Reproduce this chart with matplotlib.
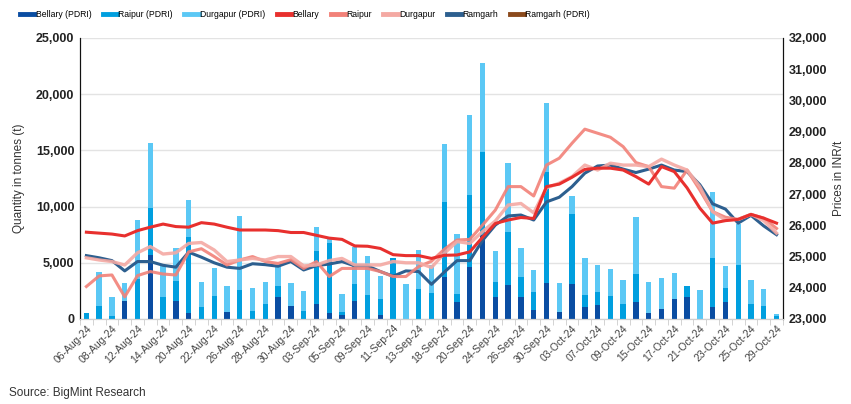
import numpy as np
import matplotlib
matplotlib.use('Agg')
import matplotlib.pyplot as plt
from matplotlib.lines import Line2D

plt.rcParams['font.family'] = ['Liberation Sans Narrow', 'Liberation Sans', 'DejaVu Sans']

# dates (trading days)
dates = ['06-Aug-24', '07-Aug-24', '08-Aug-24', '09-Aug-24', '12-Aug-24', '13-Aug-24', '14-Aug-24',
         '16-Aug-24', '20-Aug-24', '21-Aug-24', '22-Aug-24', '23-Aug-24', '26-Aug-24', '27-Aug-24',
         '28-Aug-24', '29-Aug-24', '30-Aug-24', '02-Sep-24', '03-Sep-24', '04-Sep-24', '05-Sep-24',
         '06-Sep-24', '09-Sep-24', '10-Sep-24', '11-Sep-24', '12-Sep-24', '13-Sep-24', '17-Sep-24',
         '18-Sep-24', '19-Sep-24', '20-Sep-24', '23-Sep-24', '24-Sep-24', '25-Sep-24', '26-Sep-24',
         '27-Sep-24', '30-Sep-24', '01-Oct-24', '03-Oct-24', '04-Oct-24', '07-Oct-24', '08-Oct-24',
         '09-Oct-24', '11-Oct-24', '15-Oct-24', '16-Oct-24', '17-Oct-24', '18-Oct-24', '21-Oct-24',
         '22-Oct-24', '23-Oct-24', '24-Oct-24', '25-Oct-24', '28-Oct-24', '29-Oct-24']

# quantities (t), stacked bars
bellary_pdri = [0, 0, 0, 1570, 0, 5690, 0, 1570, 560, 0, 0, 650, 0, 0,
                0, 1990, 1160, 0, 1310, 560, 400, 1570, 0, 360, 0, 0, 0, 0,
                3710, 1540, 4650, 7500, 1930, 3020, 1930, 800, 3230, 650, 3080, 1040, 1220, 0,
                0, 1480, 560, 860, 1780, 1990, 0, 1100, 1540, 0, 0, 0, 0]
raipur_pdri = [550, 1150, 300, 0, 3530, 4160, 2000, 1840, 6750, 1100, 2050, 0, 2580, 710,
               1330, 980, 0, 740, 4740, 6200, 200, 1510, 2130, 1420, 5400, 0, 2640, 2340,
               6730, 680, 6410, 7400, 1390, 4750, 1780, 1580, 9880, 0, 6230, 1090, 1210, 2050,
               1310, 2520, 0, 0, 0, 980, 0, 4300, 1250, 4800, 1310, 1160, 300]
durgapur_pdri = [0, 3030, 1650, 1660, 5250, 5780, 2700, 2940, 3250, 2200, 2520, 2320, 6550, 2080,
                 1990, 1690, 2010, 1780, 2110, 560, 1620, 3300, 3440, 2050, 0, 3080, 3500, 2500,
                 5100, 5310, 7120, 7850, 2730, 6080, 2580, 1980, 6080, 2580, 1660, 3270, 2400, 2430,
                 2160, 5050, 2700, 2790, 2340, 0, 2580, 5930, 1950, 3650, 2160, 1480, 120]

# prices (INR/t)
bellary = [25780, 25750, 25720, 25660, 25830, 25940, 26040, 25960, 25940, 26085, 26040, 25940, 25850, 25850,
           25850, 25830, 25770, 25770, 25680, 25590, 25550, 25340, 25330, 25260, 25060, 25030, 25030, 24940,
           25040, 25050, 25150, 25620, 26060, 26170, 26250, 26220, 27240, 27320, 27540, 27790, 27830, 27830,
           27770, 27560, 27320, 27880, 27720, 27200, 26550, 26070, 26150, 26190, 26350, 26230, 26070]
raipur = [24040, 24380, 24410, 23710, 24390, 24520, 24440, 24410, 25150, 25250, 25000, 24730, 24890, 25000,
          24840, 24780, 24900, 24620, 24840, 24360, 24620, 24620, 24620, 24520, 24360, 24360, 24680, 24850,
          25230, 25530, 25550, 26010, 26490, 27240, 27240, 26940, 27930, 28150, 28630, 29080, 28950, 28820,
          28520, 28010, 27880, 27240, 27190, 27770, 27130, 26440, 26260, 26190, 26350, 26230, 25900]
durgapur = [24960, 24890, 24840, 24730, 25120, 25320, 25080, 25120, 25420, 25450, 25210, 24840, 24890, 24940,
            24890, 25000, 25000, 24700, 24730, 24870, 24940, 24730, 24730, 24730, 24840, 24800, 24800, 24650,
            25100, 25480, 25420, 25800, 26140, 26650, 26700, 26400, 27200, 27350, 27560, 27930, 27770, 27990,
            27930, 27930, 27880, 28120, 27930, 27770, 27240, 26440, 26170, 26190, 26350, 26150, 25750]
ramgarh = [25030, 24960, 24870, 24540, 24840, 24840, 24720, 24660, 25140, 24980, 24800, 24660, 24620, 24770,
           24740, 24690, 24840, 24570, 24710, 24760, 24840, 24700, 24700, 24520, 24370, 24540, 24520, 24110,
           24500, 24870, 24870, 25520, 26010, 26300, 26330, 26170, 26750, 26900, 27240, 27670, 27900, 27930,
           27800, 27690, 27800, 27930, 27770, 27720, 27300, 26690, 26520, 26070, 26320, 25980, 25700]
ramgarh_pdri = [np.nan] * len(dates)

c_bel_p = '#0A4DA2'
c_rai_p = '#009FDF'
c_dur_p = '#5BC8F5'
c_bel = '#E8302E'
c_rai = '#F28178'
c_dur = '#F4A9A3'
c_ram = '#2D5F8F'
c_ram_p = '#8B4A1C'

x = np.arange(len(dates))
b1 = np.array(bellary_pdri)
b2 = np.array(raipur_pdri)
b3 = np.array(durgapur_pdri)

fig = plt.figure(figsize=(8.51, 4.04), dpi=100)
ax = fig.add_axes([0.094, 0.2104, 0.826, 0.6956])
ax2 = ax.twinx()

w = 0.42
ax.bar(x, b1, w, color=c_bel_p, zorder=2)
ax.bar(x, b2, w, bottom=b1, color=c_rai_p, zorder=2)
ax.bar(x, b3, w, bottom=b1 + b2, color=c_dur_p, zorder=2)

ax.set_xlim(-0.5, len(dates) - 0.5)
ax.set_ylim(0, 25000)
ax.set_yticks(np.arange(0, 25001, 5000))
ax.set_yticklabels([f'{v:,}' for v in range(0, 25001, 5000)], fontsize=9, fontweight='bold',
                   family=['Liberation Sans', 'DejaVu Sans'], color='#222222')
ax.yaxis.grid(True, color='#e3e3e3', lw=1)
ax.set_axisbelow(True)
ax.set_ylabel('Quantity in tonnes (t)', fontsize=8.5, color='#333333', labelpad=8)

ax.set_xticks(x[::2])
ax.set_xticklabels(dates[::2], rotation=45, ha='right', rotation_mode='anchor', fontsize=7.5, color='#444444')
ax.set_xticks(np.arange(-0.5, len(dates), 1), minor=True)
ax.tick_params(axis='x', which='major', length=0, pad=3)
ax.tick_params(axis='x', which='minor', length=4, color='#cccccc')
ax.tick_params(axis='y', length=0, pad=4)

ax2.plot(x, bellary, color=c_bel, lw=2.2, zorder=5)
ax2.plot(x, raipur, color=c_rai, lw=2.2, zorder=4, alpha=0.9)
ax2.plot(x, durgapur, color=c_dur, lw=2.4, zorder=4, alpha=0.9)
ax2.plot(x, ramgarh, color=c_ram, lw=2.2, zorder=3)
ax2.plot(x, ramgarh_pdri, color=c_ram_p, lw=2)
ax2.set_ylim(23000, 32000)
ax2.set_yticks(np.arange(23000, 32001, 1000))
ax2.set_yticklabels([f'{v:,}' for v in range(23000, 32001, 1000)], fontsize=9, fontweight='bold',
                    family=['Liberation Sans', 'DejaVu Sans'], color='#222222')
ax2.tick_params(axis='y', length=0, pad=4)
ax2.set_ylabel('Prices in INR/t', fontsize=8.5, color='#333333', labelpad=4)

for a in (ax, ax2):
    a.spines['top'].set_visible(False)
    a.spines['bottom'].set_color('#d0d0d0')
    a.spines['left'].set_color('#111111')
    a.spines['right'].set_color('#111111')

handles = [Line2D([], [], color=c, lw=3.5) for c in
           [c_bel_p, c_rai_p, c_dur_p, c_bel, c_rai, c_dur, c_ram, c_ram_p]]
labels = ['Bellary (PDRI)', 'Raipur (PDRI)', 'Durgapur (PDRI)', 'Bellary', 'Raipur', 'Durgapur',
          'Ramgarh', 'Ramgarh (PDRI)']
fig.legend(handles, labels, loc='upper left', bbox_to_anchor=(0.014, 0.995), ncol=8, frameon=False,
           fontsize=6.2, handlelength=1.7, handletextpad=0.15, columnspacing=1.3)

fig.text(0.01, 0.02, 'Source: BigMint Research', fontsize=8.5, color='#333333')

fig.savefig('out.png', dpi=100)
